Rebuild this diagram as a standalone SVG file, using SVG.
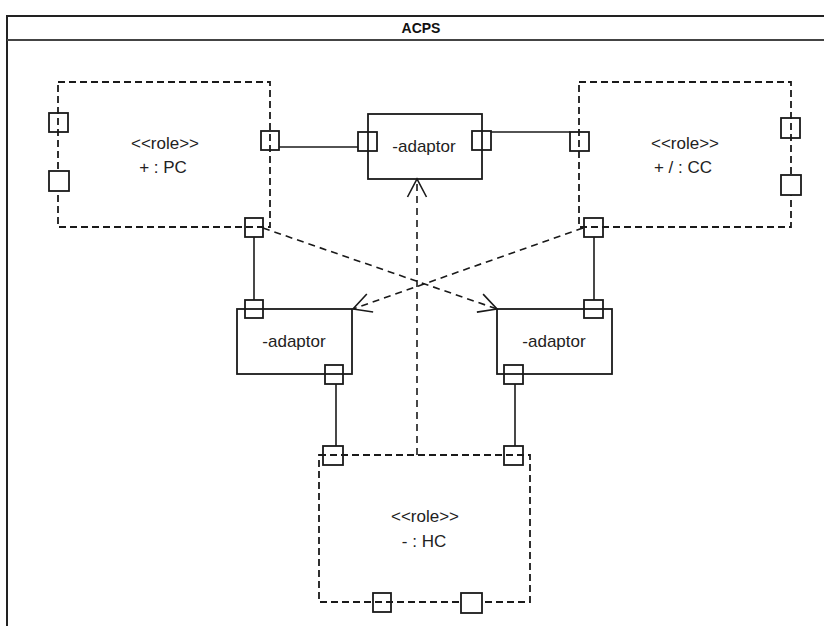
<svg xmlns="http://www.w3.org/2000/svg" width="824" height="626" viewBox="0 0 824 626">
  <style>
    .frame { fill: none; stroke: #222; stroke-width: 2; }
    .divider { fill: none; stroke: #444; stroke-width: 2; }
    .title { font-family: "Liberation Sans", Arial, sans-serif; font-size: 14px; font-weight: bold; fill: #111; text-anchor: middle; }
    .role { fill: none; stroke: #1a1a1a; stroke-width: 1.8; stroke-dasharray: 7 4; }
    .part { fill: #fff; stroke: #1a1a1a; stroke-width: 1.8; }
    .port { fill: none; stroke: #1a1a1a; stroke-width: 1.8; }
    .port.solid { fill: #fff; }
    .label { font-family: "Liberation Sans", Arial, sans-serif; font-size: 17px; fill: #222; text-anchor: middle; }
    .link { fill: none; stroke: #1a1a1a; stroke-width: 1.6; }
    .dep { fill: none; stroke: #1a1a1a; stroke-width: 1.6; stroke-dasharray: 7 5; marker-end: url(#open); }
  </style>
  <defs>
    <marker id="open" viewBox="-22 -12 24 24" refX="0" refY="0" markerWidth="24" markerHeight="24" markerUnits="userSpaceOnUse" orient="auto">
      <path d="M-18,-9.5 L0,0 L-18,9.5" fill="none" stroke="#1a1a1a" stroke-width="1.6"/>
    </marker>
  </defs>

  <rect width="824" height="626" fill="#fff"/>

  <!-- enclosing structured class -->
  <g id="ACPS">
    <path class="frame" d="M7,640 L7,16 L830,16"/>
    <line class="divider" x1="7" y1="40" x2="830" y2="40"/>
    <text class="title" x="421" y="33">ACPS</text>
  </g>

  <!-- role PC -->
  <g id="PC">
    <rect class="role" x="58" y="82" width="212" height="145"/>
    <text class="label" x="165" y="149">&lt;&lt;role&gt;&gt;</text>
    <text class="label" x="163" y="173">+ : PC</text>
    <rect class="port" x="49" y="113" width="19" height="19"/>
    <rect class="port solid" x="49" y="171" width="20" height="20"/>
    <rect class="port" x="261" y="131" width="18" height="19"/>
    <rect class="port" x="245" y="218" width="18" height="19"/>
  </g>

  <!-- role CC -->
  <g id="CC">
    <rect class="role" x="579" y="82" width="212" height="145"/>
    <text class="label" x="685" y="149">&lt;&lt;role&gt;&gt;</text>
    <text class="label" x="683" y="173">+ / : CC</text>
    <rect class="port" x="570" y="132" width="19" height="19"/>
    <rect class="port" x="781" y="118" width="19" height="20"/>
    <rect class="port solid" x="781" y="175" width="20" height="20"/>
    <rect class="port" x="584" y="218" width="19" height="19"/>
  </g>

  <!-- role HC -->
  <g id="HC">
    <rect class="role" x="319" y="455" width="211" height="147"/>
    <text class="label" x="425" y="522">&lt;&lt;role&gt;&gt;</text>
    <text class="label" x="424" y="547">- : HC</text>
    <rect class="port" x="323" y="446" width="20" height="19"/>
    <rect class="port" x="504" y="446" width="19" height="19"/>
    <rect class="port" x="373" y="593" width="18" height="19"/>
    <rect class="port solid" x="461" y="593" width="21" height="20"/>
  </g>

  <!-- adaptor parts -->
  <g id="adaptor-top">
    <rect class="part" x="368" y="114" width="114" height="65"/>
    <text class="label" x="424" y="152">-adaptor</text>
    <rect class="port" x="358" y="132" width="19" height="19"/>
    <rect class="port" x="472" y="131" width="19" height="19"/>
  </g>

  <g id="adaptor-left">
    <rect class="part" x="237" y="309" width="115" height="65"/>
    <text class="label" x="294" y="347">-adaptor</text>
    <rect class="port" x="245" y="300" width="18" height="18"/>
    <rect class="port" x="325" y="365" width="18" height="19"/>
  </g>

  <g id="adaptor-right">
    <rect class="part" x="497" y="309" width="115" height="65"/>
    <text class="label" x="554" y="347">-adaptor</text>
    <rect class="port" x="584" y="300" width="19" height="18"/>
    <rect class="port" x="504" y="365" width="19" height="19"/>
  </g>

  <!-- connectors and dependencies -->
  <g id="connectors">
    <line class="link" x1="279" y1="147" x2="358" y2="147"/>
    <line class="link" x1="491" y1="132" x2="570" y2="132"/>
    <line class="link" x1="254" y1="237" x2="254" y2="300"/>
    <line class="link" x1="594" y1="237" x2="594" y2="300"/>
    <line class="link" x1="336" y1="384" x2="336" y2="446"/>
    <line class="link" x1="515" y1="384" x2="515" y2="446"/>
    <line class="dep" x1="263" y1="228" x2="497" y2="309"/>
    <line class="dep" x1="583" y1="228" x2="353" y2="309"/>
    <line class="dep" x1="417" y1="455" x2="417" y2="179"/>
  </g>
</svg>
